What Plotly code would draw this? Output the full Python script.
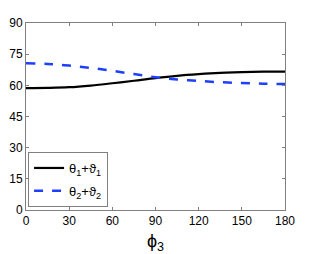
import plotly.graph_objects as go

phi3 = [0, 15, 30, 45, 60, 75, 90, 105, 120, 135, 150, 165, 180]
series1 = [58.7, 58.8, 59.1, 59.9, 61.0, 62.2, 63.5, 64.6, 65.4, 66.0, 66.4, 66.6, 66.6]
series2 = [70.6, 70.3, 69.5, 68.4, 67.0, 65.4, 63.9, 62.8, 62.1, 61.5, 61.1, 60.8, 60.6]
name1 = "θ<sub>1</sub>+ϑ<sub>1</sub>"
name2 = "θ<sub>2</sub>+ϑ<sub>2</sub>"
xticks = [0, 30, 60, 90, 120, 150, 180]
yticks = [0, 15, 30, 45, 60, 75, 90]
xlabel = "ϕ<sub>3</sub>"

fig = go.Figure()
fig.add_trace(go.Scatter(x=phi3, y=series1, mode="lines", name=name1, legendgroup="a",
                         line=dict(color="black", width=2.2, shape="spline")))
fig.add_trace(go.Scatter(x=phi3, y=series2, mode="lines", name=name2, legendgroup="b",
                         line=dict(color="#1f3fff", width=2.5, dash="dash", shape="spline")))

axis_common = dict(showgrid=False, zeroline=False, showline=True, linecolor="#808080",
                   linewidth=1, mirror="ticks", ticks="inside", ticklen=3, tickcolor="#808080",
                   automargin=False,
                   tickfont=dict(family="Liberation Sans, Arial", size=12, color="black"))
fig.update_xaxes(range=[0, 180], tickvals=xticks, **axis_common)
fig.update_yaxes(range=[0, 90], tickvals=yticks, **axis_common)

fig.add_annotation(text=xlabel, x=0.5, y=-0.1, xref="paper", yref="paper",
                   xanchor="center", yanchor="top", showarrow=False,
                   font=dict(family="Liberation Sans, Arial", size=18, color="black"))

fig.update_layout(width=308, height=246, margin=dict(l=18, r=31, t=15, b=44),
                  plot_bgcolor="white", paper_bgcolor="white",
                  legend=dict(x=0.008, y=0.016, xanchor="left", yanchor="bottom",
                              bordercolor="#808080", borderwidth=1, bgcolor="white",
                              font=dict(family="Liberation Sans, Arial", size=13, color="black"),
                              itemwidth=30, tracegroupgap=3))
fig.write_html("out.html")
